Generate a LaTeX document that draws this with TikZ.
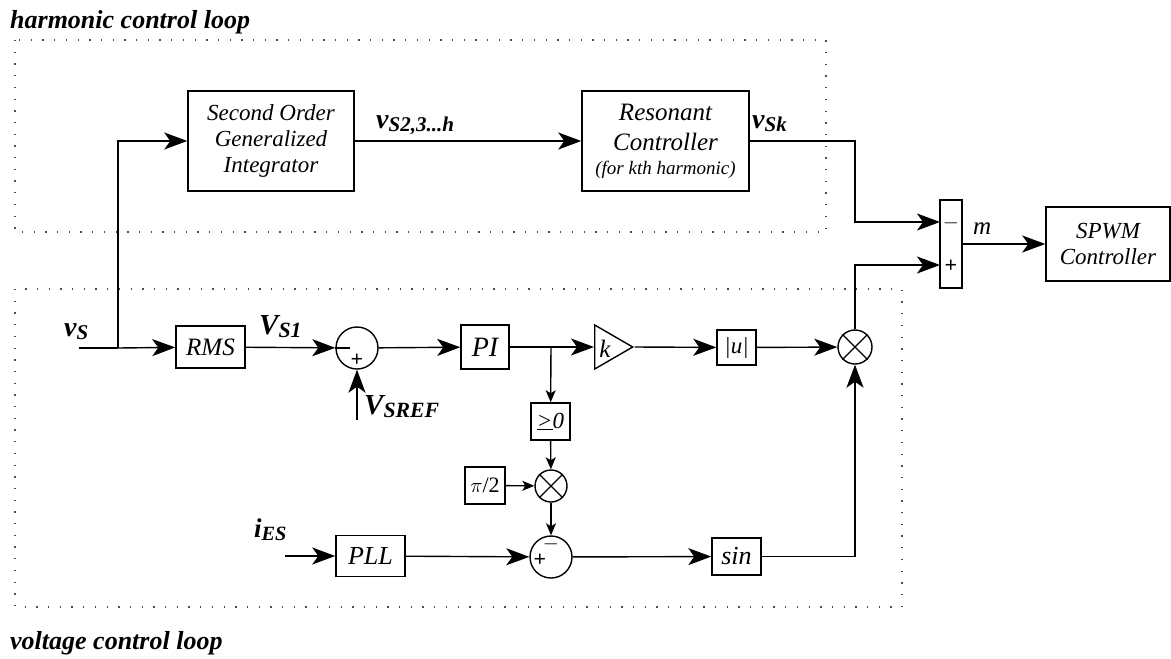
\documentclass[tikz,border=0pt]{standalone}
\usepackage{fontspec}
\setmainfont{Liberation Serif}
\usetikzlibrary{arrows.meta,shapes.geometric}
\newcommand\mylab[3]{{\fontsize{#1}{#1}\selectfont\bfseries\itshape #2}\raisebox{-0.3em}{\fontsize{#1}{#1}\selectfont\fontsize{\dimexpr#1pt*3/4\relax}{10}\selectfont\bfseries\itshape #3}}
\begin{document}
\begin{tikzpicture}[x=1pt,y=-1pt,
 blk/.style={draw,line width=1.5pt,inner sep=0pt,font=\itshape\fontsize{23}{26}\selectfont,align=center},
 ar/.style={-{Stealth[length=23pt,width=17pt,inset=6pt]},line width=1.4pt},
 sar/.style={-{Stealth[length=12pt,width=10pt,inset=3pt]},line width=1.4pt},
 ln/.style={line width=1.4pt},
 dots/.style={line width=1.6pt,dash pattern=on 1.3pt off 10.4pt,black!70},
 circ/.style={draw,circle,line width=1.4pt,inner sep=0pt},
 lbl/.style={inner sep=0pt,anchor=base west},
 sign/.style={inner sep=0pt,font=\bfseries\fontsize{22}{22}\selectfont},
 ttl/.style={inner sep=0pt,anchor=base west,font=\bfseries\itshape\fontsize{26}{26}\selectfont}
]
\useasboundingbox (0,0) rectangle (1171,659);
% titles and dotted frames
\node[ttl] (t1) at (10,28) {harmonic control loop};
\node[ttl] (t2) at (10,649) {voltage control loop};
\draw[dots] (15,40) rectangle (826,232);
\draw[dots] (15,289) rectangle (902,607);

% harmonic loop
\node[blk,minimum width=166pt,minimum height=100pt] (sogi) at (271,141) {Second Order\\Generalized\\Integrator};
\node[blk,minimum width=167pt,minimum height=100pt,font=\itshape\fontsize{25}{30}\selectfont] (res) at (665.5,141)
  {Resonant\\Controller\\[-6pt]{\fontsize{19}{22}\selectfont (for kth harmonic)}};
\node[blk,minimum width=22pt,minimum height=88pt] (sum) at (951,244) {};
\node[blk,minimum width=124pt,minimum height=74pt,font=\itshape\fontsize{23}{26}\selectfont] (spwm) at (1108,244) {SPWM\\Controller};
\node[sign] (sm) at (951,223) {$-$};
\node[sign] (sp) at (951,266) {+};

% voltage loop
\node[blk,minimum width=69pt,minimum height=42pt,font=\itshape\fontsize{25}{25}\selectfont] (rms) at (210.5,347) {RMS};
\node[circ,minimum size=42pt] (s1) at (357,348) {};
\draw[line width=1.2pt] (s1.west) -- ++(15,0);
\node[sign] (s1p) at (357,360) {+};
\node[blk,minimum width=48pt,minimum height=44pt,font=\itshape\fontsize{28}{28}\selectfont] (pi) at (485,347) {PI};
\node[draw,isosceles triangle,line width=1.4pt,minimum height=38pt,minimum width=44pt,isosceles triangle stretches,inner sep=0pt,anchor=lower side] (k) at (594,347) {};
\node[inner sep=0pt,font=\itshape\fontsize{25}{25}\selectfont] (kl) at (605,349) {k};
\node[blk,minimum width=39pt,minimum height=35pt,font=\itshape\fontsize{23}{23}\selectfont] (abs) at (736.5,347.5) {|u|};
\node[circ,minimum size=34pt] (m1) at (855,347) {};
\draw[line width=1.2pt] (m1.north west) -- (m1.south east) (m1.north east) -- (m1.south west);
\node[blk,minimum width=39pt,minimum height=37pt,font=\itshape\fontsize{23}{23}\selectfont] (ge) at (550.5,421.5) {\underline{>}0};
\node[circ,minimum size=32pt] (m2) at (551,486) {};
\draw[line width=1.2pt] (m2.north west) -- (m2.south east) (m2.north east) -- (m2.south west);
\node[blk,minimum width=40pt,minimum height=37pt,font=\fontsize{22}{22}\selectfont] (pi2) at (485,485.5) {$\pi$/2};
\node[circ,minimum size=42pt] (s2) at (551,557) {};
\node[sign] (s2m) at (551,544) {$-$};
\node[sign] (s2p) at (540,560) {+};
\node[blk,minimum width=69pt,minimum height=41pt,font=\itshape\fontsize{26}{26}\selectfont] (pll) at (370.5,556) {PLL};
\node[blk,minimum width=49pt,minimum height=37pt,font=\itshape\fontsize{26}{26}\selectfont] (sin) at (736.5,556.5) {sin};

% labels
\node[lbl] (lvs) at (64,336) {\mylab{28}{v}{S}};
\node[lbl] (lvs1) at (259,334) {\mylab{29}{V}{S1}};
\node[lbl] (lvref) at (364,414) {\mylab{29}{V}{SREF}};
\node[lbl] (lies) at (254,537) {\mylab{27}{i}{ES}};
\node[lbl] (lvh) at (376,128) {\mylab{28}{v}{S2,3...h}};
\node[lbl] (lvk) at (752,128) {\mylab{28}{v}{Sk}};
\node[lbl,font=\itshape\fontsize{25}{25}\selectfont] (lm) at (973,234) {m};

% coordinates
\coordinate (vin) at (79,348);
\coordinate (br1) at (118,348);
\coordinate (vref) at (357,420);
\coordinate (br2) at (551,347);
\coordinate (iin) at (285,556);
\coordinate (sumA) at (940,222);
\coordinate (sumB) at (940,265);

% connectors
\draw[ln] (vin) -- (br1);
\draw[ar] (br1) -- (rms);
\draw[ar] (br1) |- (sogi.west);
\draw[ar] (sogi) -- (res);
\draw[ar] (res.east) -| (855,200) |- (sumA);
\draw[ar] (m1.north) |- (sumB);
\draw[ar] (sum.east) -- (spwm.west);
\draw[ar] (rms) -- (s1);
\draw[ar] (vref) -- (s1.south);
\draw[ar] (s1) -- (pi);
\draw[ar] (pi) -- (k.lower side);
\draw[sar] (br2) -- (ge);
\draw[ar] (k.apex) -- (abs);
\draw[ar] (abs) -- (m1);
\draw[sar] (ge) -- (m2);
\draw[sar] (pi2) -- (m2);
\draw[sar] (m2) -- (s2);
\draw[ar] (iin) -- (pll);
\draw[ar] (pll) -- (s2);
\draw[ar] (s2) -- (sin);
\draw[ar] (sin.east) -| (m1.south);
\end{tikzpicture}
\end{document}
